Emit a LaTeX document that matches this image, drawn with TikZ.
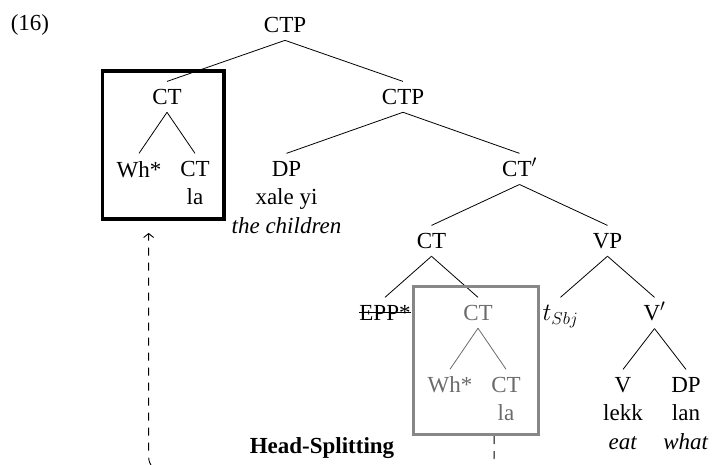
\documentclass[tikz,border=0pt]{standalone}
\usepackage{fontspec}
\setmainfont{Liberation Serif}
\usetikzlibrary{fit,arrows.meta}
\begin{document}
\begin{tikzpicture}
[x=1pt,y=1pt,font=\fontsize{23}{28.5}\selectfont,
       cat/.style={anchor=north,align=center,inner sep=7.5pt},
       bar/.style={text height=15.5pt},
       every child node/.style={cat},
       ghost/.style={text=black!58},
       level distance=56.5pt,
       edge from parent path={(\tikzparentnode.south) -- (\tikzchildnode.north)},
       edge from parent/.style={draw,line width=0.8pt},
       movebox/.style={draw,line width=3.5pt},
       splitbox/.style={draw=black!47,line width=3pt},
       movearrow/.style={line width=0.9pt,dash pattern=on 8pt off 7pt,
                         -{Straight Barb[length=4pt,width=10pt]}}]
  \useasboundingbox (0,0) rectangle (713,-465);
  \node (exnum) at (30,-25) {(16)};
  \node[cat] (ctp) at (285,-9.5) {CTP} [sibling distance=236pt] % root
     child {node (ct) {CT} [sibling distance=56pt]
       child {node (wh) {Wh*}}
       child {node (ctla) {CT\\la}}}
     child {node (ctpb) {CTP} [sibling distance=233pt]
       child {node (dp) {DP\\xale yi\\\textit{the children}}}
       child {node[bar] (ctbar) {CT$'$} [sibling distance=176pt]
         child {node (ctlow) {CT} [sibling distance=93pt]
           child {node (epp) {EPP*}}
           child {node[ghost] (ctg) {CT} [sibling distance=56pt]
             child[black!58] {node (whg) {Wh*}}
             child[black!58] {node (ctgla) {CT\\la}}}}
         child {node (vp) {VP} [sibling distance=94pt]
           child {node[bar] (tsbj) {$t_{Sbj}$}}
           child {node[bar] (vbar) {V$'$} [sibling distance=63pt]
             child {node (v) {V\\lekk\\\textit{eat}}}
             child {node (dpwhat) {DP\\lan\\\textit{what}}}}}}}; %
  % strike out EPP*
  \draw[line width=0.9pt] ([xshift=7pt,yshift=7.5pt]epp.base west) -- ([xshift=-7pt,yshift=7.5pt]epp.base east);
  % boxes
  \node[movebox,inner sep=6.5pt,fit={([yshift=4pt]ct.north) (wh) (ctla)}] (box1) {};
  \node[splitbox,inner sep=6pt,fit={([yshift=5pt]ctg.north) (whg) (ctgla) ([xshift=4pt]ctgla.east)}] (box2) {};
  \node[anchor=base] (hs) at (322,-453) {\bfseries Head-Splitting};
  % movement
  \coordinate (splitstart) at ([xshift=18pt]box2.south);
  \coordinate (splitend) at ([xshift=-14.5pt,yshift=-12pt]box1.south);
  \draw[movearrow,rounded corners=15pt] (splitstart) -- ++(0,-36) -| (splitend);
\end{tikzpicture}
\end{document}
